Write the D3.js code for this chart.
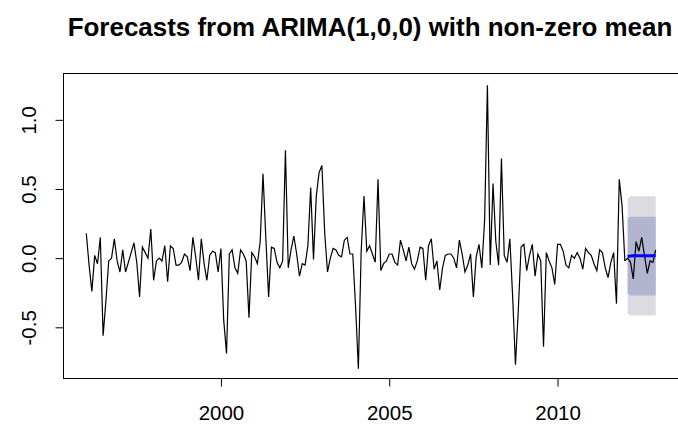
<!DOCTYPE html>
<html>
<head>
<meta charset="utf-8">
<script src="https://cdn.jsdelivr.net/npm/d3@7/dist/d3.min.js"></script>
<style>
  html, body { margin: 0; padding: 0; background: #fff; }
  svg text { font-family: "Liberation Sans", Arial, sans-serif; fill: #000; }
</style>
</head>
<body>
<script>
// monthly values, first one is Jan 1996, last training value is Jan 2012
const startYear = 1996;
const train = [
  0.18, -0.05, -0.24, 0.02, -0.04, 0.15, -0.56, -0.31, -0.02, 0.00, 0.14, -0.02,
  -0.10, 0.06, -0.10, -0.03, 0.04, 0.11, -0.03, -0.28, 0.08, 0.04, 0.00, 0.21,
  -0.16, -0.02, 0.00, -0.02, 0.09, -0.17, 0.09, 0.07, -0.05, -0.05, -0.03, 0.03,
  0.01, -0.09, 0.15, 0.01, -0.16, 0.14, -0.04, -0.16, 0.02, 0.05, 0.04, -0.10,
  0.07, -0.45, -0.69, 0.03, 0.06, -0.07, -0.11, 0.06, 0.03, -0.02, -0.43, 0.04,
  0.01, -0.04, 0.12, 0.61, 0.15, -0.28, 0.08, 0.07, -0.03, -0.07, -0.02, 0.78,
  -0.07, 0.06, 0.16, 0.03, -0.13, -0.04, -0.05, 0.09, 0.51, -0.01, 0.45, 0.62,
  0.67, 0.18, -0.10, 0.00, 0.07, 0.06, 0.02, 0.01, 0.13, 0.15, 0.03, 0.03,
  -0.35, -0.80, 0.05, 0.45, 0.05, 0.09, 0.03, -0.03, 0.57, -0.09, -0.04, -0.02,
  0.03, 0.03, -0.03, -0.05, 0.13, 0.06, -0.02, 0.08, -0.04, -0.08, -0.02, 0.08,
  0.07, -0.16, 0.09, 0.14, -0.08, -0.02, -0.23, -0.07, 0.02, 0.03, 0.03, 0.00,
  -0.07, 0.13, 0.03, -0.10, -0.05, 0.03, -0.28, 0.01, 0.10, -0.07, 0.27, 1.25,
  -0.05, 0.54, 0.12, -0.05, 0.72, 0.02, -0.03, 0.14, -0.28, -0.77, -0.38, 0.08,
  0.10, -0.09, 0.02, 0.10, -0.13, 0.03, -0.02, -0.64, 0.04, -0.02, -0.07, -0.19,
  0.10, 0.10, 0.05, -0.05, -0.07, 0.02, 0.00, 0.04, 0.00, -0.08, 0.07, 0.04,
  0.02, -0.04, -0.09, 0.06, 0.04, -0.07, -0.14, -0.03, 0.04, -0.33, 0.57, 0.38,
  -0.02
];
// held-out months Feb 2012 .. Dec 2012, drawn over the forecast
const test = [0.00, -0.03, -0.15, 0.12, 0.05, 0.15, 0.02, -0.11, -0.02, -0.03, 0.06];

// forecast, same months as test
const fcMean = [0.012, 0.016, 0.017, 0.017, 0.017, 0.017, 0.017, 0.017, 0.017, 0.017, 0.017];
const lo80 = [-0.26, -0.27, -0.27, -0.27, -0.27, -0.27, -0.27, -0.27, -0.27, -0.27, -0.27];
const hi80 = [0.29, 0.30, 0.30, 0.30, 0.30, 0.30, 0.30, 0.30, 0.30, 0.30, 0.30];
const lo95 = [-0.40, -0.415, -0.415, -0.415, -0.415, -0.415, -0.415, -0.415, -0.415, -0.415, -0.415];
const hi95 = [0.43, 0.447, 0.447, 0.447, 0.447, 0.447, 0.447, 0.447, 0.447, 0.447, 0.447];

const xTicks = [2000, 2005, 2010];
const yTicks = [-0.5, 0, 0.5, 1];
const title = "Forecasts from ARIMA(1,0,0) with non-zero mean";

const W = 678, H = 431;
const box = {left: 63.5, right: 678.5, top: 73.5, bottom: 378.5};

const t = i => startYear + i / 12;
const trainPts = train.map((v, i) => ({time: t(i), value: v}));
const n0 = train.length;
const testPts = [trainPts[n0 - 1]].concat(test.map((v, i) => ({time: t(n0 + i), value: v})));
const fcPts = fcMean.map((v, i) => ({time: t(n0 + i), mean: v,
  lo80: lo80[i], hi80: hi80[i], lo95: lo95[i], hi95: hi95[i]}));

// R style 4% padding on the time range
const tMin = t(0), tMax = t(n0 + test.length - 1);
const pad = (tMax - tMin) * 0.04;
const x = d3.scaleLinear().domain([tMin - pad, tMax + pad]).range([box.left, box.right]);
const y = d3.scaleLinear().domain([-0.87, 1.335]).range([box.bottom, box.top]);

const svg = d3.select("body").append("svg")
  .attr("width", W).attr("height", H)
  .style("display", "block");
svg.append("rect").attr("width", W).attr("height", H).attr("fill", "#fff");

// forecast intervals
const band = (lo, hi) => d3.area()
  .x(d => x(d.time)).y0(d => y(d[lo])).y1(d => y(d[hi]));
svg.append("path").datum(fcPts).attr("d", band("lo95", "hi95")).attr("fill", "#dbdbe1");
svg.append("path").datum(fcPts).attr("d", band("lo80", "hi80")).attr("fill", "#b1b5d0");

const line = d3.line().x(d => x(d.time)).y(d => y(d.value));
svg.append("path").datum(trainPts).attr("d", line)
  .attr("fill", "none").attr("stroke", "#000").attr("stroke-width", 1.2);
svg.append("path").datum(testPts).attr("d", line)
  .attr("fill", "none").attr("stroke", "#000").attr("stroke-width", 1.2);

svg.append("path").datum(fcPts)
  .attr("d", d3.line().x(d => x(d.time)).y(d => y(d.mean)))
  .attr("fill", "none").attr("stroke", "#0000ff").attr("stroke-width", 3);

// frame
svg.append("rect")
  .attr("x", box.left).attr("y", box.top)
  .attr("width", box.right - box.left).attr("height", box.bottom - box.top)
  .attr("fill", "none").attr("stroke", "#000").attr("stroke-width", 1);

// axes
const fontSize = 20.5;
const xAxis = svg.append("g")
  .attr("transform", "translate(0," + box.bottom + ")")
  .call(d3.axisBottom(x).tickValues(xTicks).tickFormat(d3.format("d")).tickSize(8).tickPadding(19));
xAxis.select(".domain").remove();
xAxis.selectAll("text").attr("font-size", fontSize).style("font-family", "Liberation Sans, Arial, sans-serif");

const yAxis = svg.append("g")
  .attr("transform", "translate(" + box.left + ",0)")
  .call(d3.axisLeft(y).tickValues(yTicks).tickFormat(d => d.toFixed(1)).tickSize(8));
yAxis.select(".domain").remove();
yAxis.selectAll("text")
  .attr("font-size", fontSize)
  .style("font-family", "Liberation Sans, Arial, sans-serif")
  .attr("text-anchor", "middle")
  .attr("x", 0).attr("dy", 0)
  .attr("transform", "translate(-28,0) rotate(-90)");
svg.selectAll(".tick line").attr("stroke", "#000");

// title, fitted to the width it has in the picture
const tt = svg.append("text")
  .attr("x", (box.left + box.right) / 2 - 1).attr("y", 36)
  .attr("text-anchor", "middle")
  .attr("font-weight", "bold")
  .attr("font-size", 20)
  .text(title);
const tw = tt.node().getComputedTextLength();
tt.attr("font-size", 20 * 605 / tw);
</script>
</body>
</html>
